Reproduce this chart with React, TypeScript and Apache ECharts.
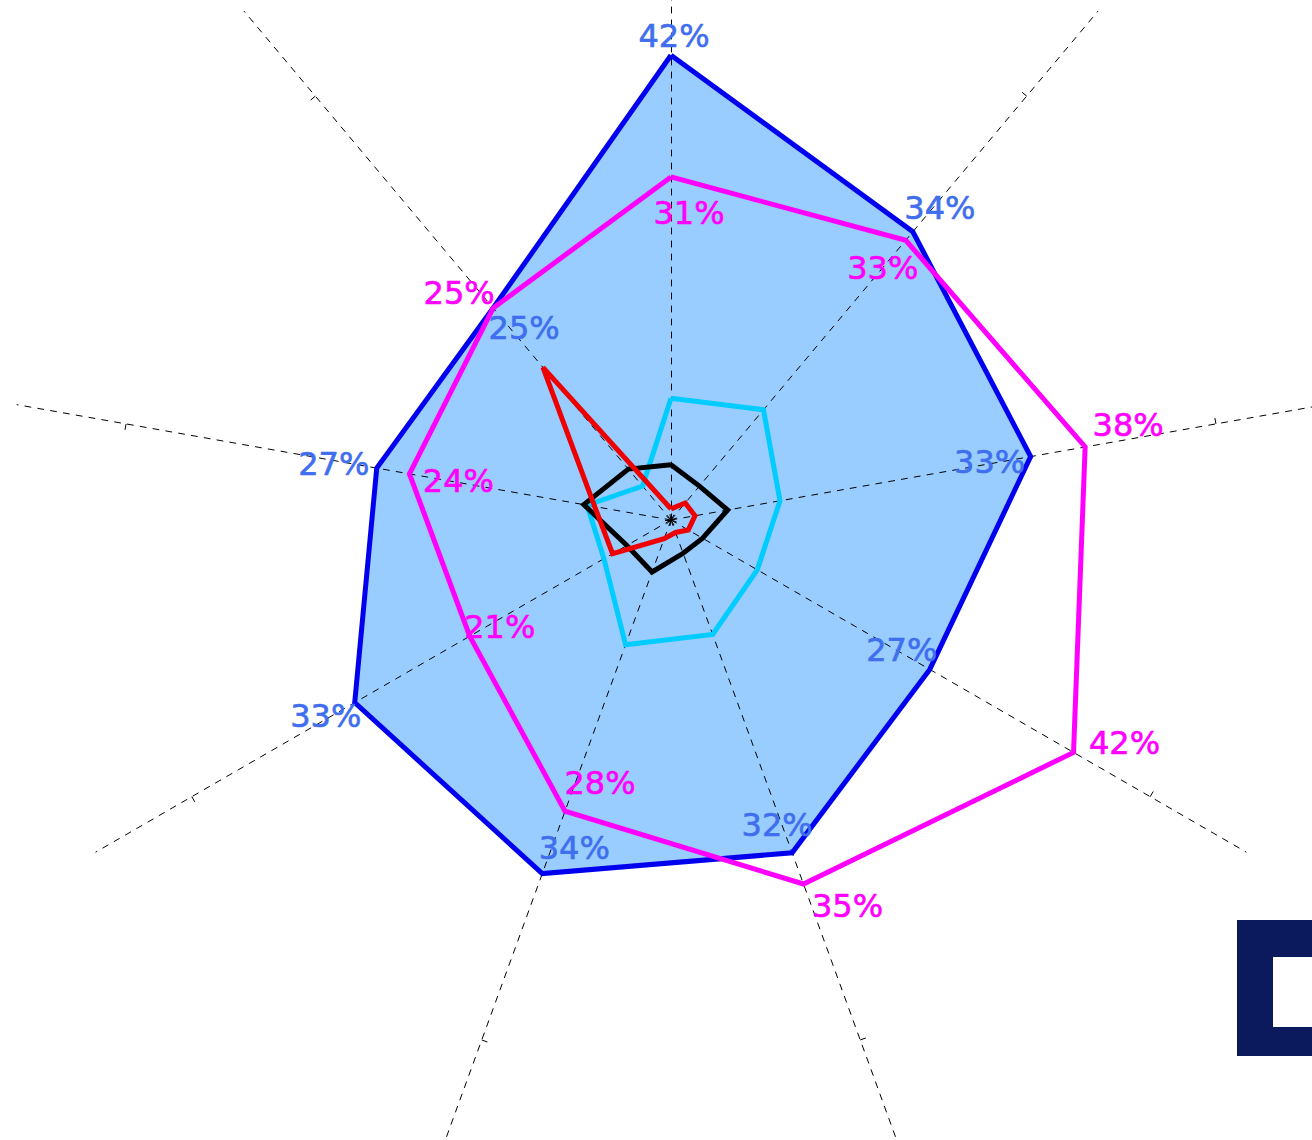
import React, { useEffect, useRef } from 'react';
import * as echarts from 'echarts';

// Axes listed clockwise, starting at the top
const axes = ['A1', 'A2', 'A3', 'A4', 'A5', 'A6', 'A7', 'A8', 'A9'];
const axisMax = 60;
const tickMax = 50;

const blueValues = [42, 34, 33, 27, 32, 34, 33, 27, 25];
const magentaValues = [31, 33, 38, 42, 35, 28, 21, 24, 25];
const cyanValues = [11, 13, 10, 9, 11, 12, 7, 7.7, 4];
const blackValues = [5, 4, 5.2, 3.3, 3.2, 5, 4.6, 8, 6];
const redValues = [1, 2, 2.2, 1.8, 1.2, 1.8, 6.1, 7, 18];

// label offsets (style only)
const blueLabelOffsets = [[3, -19], [27, -24], [-41, 5], [-28, -19], [-15, -28], [32, -26], [-29, 13], [-43, -4], [31, 20]];
const magentaLabelOffsets = [[18, 36], [-23, 28], [43, -22], [51, -9], [44, 22], [35, -28], [30, -9], [49, 7], [-34, -15]];

const CENTER = [671, 520];
const RADIUS = 664;
const FONT = 'DejaVu Sans';

// ECharts radar places indicators counter-clockwise; reorder clockwise lists
const ccw = (arr: any[]) => [arr[0], ...arr.slice(1).reverse()];

export default function App() {
  const ref = useRef<HTMLDivElement>(null);
  useEffect(() => {
    document.body.style.margin = '0';
    const chart = echarts.init(ref.current!, undefined, { renderer: 'svg' });
    const lineSeries = (values: number[], color: string, name: string, z: number) => ({
      type: 'radar',
      radarIndex: 0,
      name,
      z,
      symbol: 'none',
      silent: true,
      lineStyle: { color, width: 5, join: 'miter' },
      data: [{ value: ccw(values), name }],
    });
    const labelSeries = (values: number[], offsets: number[][], color: string) => ({
      type: 'scatter',
      coordinateSystem: 'polar',
      symbolSize: 1,
      silent: true,
      z: 5,
      itemStyle: { color: 'transparent', opacity: 1 },
      label: {
        show: true,
        position: 'inside',
        color,
        opacity: 1,
        fontSize: 32,
        fontFamily: FONT,
        textBorderColor: color,
        textBorderWidth: 0.6,
        formatter: (p: any) => p.value[0] + '%',
      },
      data: values.map((v, i) => ({ value: [v, axes[i]], label: { offset: offsets[i] } })),
    });
    chart.setOption({
      animation: false,
      backgroundColor: '#ffffff',
      radar: [
        {
          center: CENTER,
          radius: RADIUS,
          startAngle: 90,
          z: 2,
          indicator: ccw(axes).map((n) => ({ name: n, min: 0, max: axisMax })),
          splitNumber: 6,
          axisName: { show: false },
          axisLine: { show: true, lineStyle: { color: '#000', width: 1, type: [6, 7] } },
          axisTick: { show: false },
          axisLabel: { show: false },
          splitLine: { show: false },
          splitArea: { show: false },
        },
        {
          center: CENTER,
          radius: (RADIUS * tickMax) / axisMax,
          startAngle: 90,
          z: 2,
          indicator: ccw(axes).map((n) => ({ name: n, min: 0, max: tickMax })),
          splitNumber: 1,
          axisName: { show: false },
          axisLine: { show: false },
          axisTick: { show: true, length: 6, lineStyle: { color: '#000', width: 1 } },
          axisLabel: { show: false },
          splitLine: { show: false },
          splitArea: { show: false },
        },
      ],
      polar: { center: CENTER, radius: RADIUS },
      angleAxis: {
        type: 'category',
        data: axes,
        startAngle: 90,
        clockwise: true,
        boundaryGap: false,
        show: false,
      },
      radiusAxis: { type: 'value', min: 0, max: axisMax, show: false },
      series: [
        {
          type: 'radar',
          radarIndex: 0,
          z: 1,
          symbol: 'none',
          silent: true,
          lineStyle: { width: 0, opacity: 0 },
          areaStyle: { color: '#99CCFF', opacity: 1 },
          data: [{ value: ccw(blueValues), name: 'blue-area' }],
        },
        lineSeries(blueValues, '#0000EE', 'blue', 3),
        lineSeries(magentaValues, '#FF00FF', 'magenta', 3),
        lineSeries(cyanValues, '#00CCFF', 'cyan', 3),
        lineSeries(blackValues, '#000000', 'black', 3),
        lineSeries(redValues, '#EE0000', 'red', 4),
        labelSeries(blueValues, blueLabelOffsets, '#3F6FEF'),
        labelSeries(magentaValues, magentaLabelOffsets, '#FF00FF'),
      ],
      graphic: [
        { type: 'text', left: 620, top: 518, style: { text: '0%', fill: '#ffffff', font: '6px ' + FONT } },
        { type: 'rect', shape: { x: 1237, y: 920, width: 90, height: 136 }, style: { fill: '#0B1A5C' } },
        { type: 'rect', shape: { x: 1273, y: 957, width: 60, height: 70 }, style: { fill: '#ffffff' } },
      ],
    });
    return () => chart.dispose();
  }, []);
  return <div ref={ref} style={{ width: 1312, height: 1140 }} />;
}
